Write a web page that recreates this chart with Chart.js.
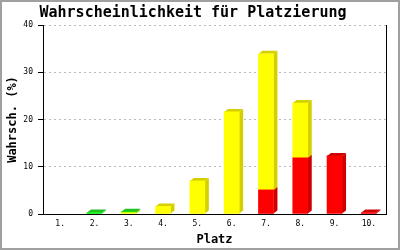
<!DOCTYPE html>
<html>
<head>
<meta charset="utf-8">
<script src="https://cdn.jsdelivr.net/npm/chart.js@4.4.0/dist/chart.umd.min.js"></script>
<style>
  html, body { margin: 0; padding: 0; background: #fff; }
  #wrap { width: 400px; height: 250px; }
</style>
</head>
<body>
<div id="wrap"><canvas id="chart" width="400" height="250"></canvas></div>
<script>
// Platzierungen 1.-10.
const places = ['1.', '2.', '3.', '4.', '5.', '6.', '7.', '8.', '9.', '10.'];
// Anteile je Farbe (%), von unten nach oben gestapelt (null = kein Anteil)
const redValues    = [null, null, null, null, null, null, 5.1, 11.9, 12.3, 0.3];
const yellowValues = [null, null, 0.3, 1.6, 7.0, 21.6, 28.8, 11.6, null, null];
const greenValues  = [null, 0.3, 0.2, null, null, null, null, null, null, null];
const yTicks = [0, 10, 20, 30, 40];

const MONO = '"DejaVu Sans Mono", "Liberation Mono", monospace';
const DEPTH_X = 4;
const DEPTH_Y = 3;

// 3D-Seiten und Deckflächen hinter die Balken zeichnen
const depthPlugin = {
    id: 'depth',
    beforeDatasetsDraw(chart) {
        const ctx = chart.ctx;
        ctx.save();
        chart.data.datasets.forEach((ds, i) => {
            const meta = chart.getDatasetMeta(i);
            meta.data.forEach((bar, j) => {
                if (ds.data[j] == null) return;
                const { x, y, base, width } = bar.getProps(['x', 'y', 'base', 'width'], true);
                if (base - y < 0.05) return;
                const left = x - width / 2;
                const right = x + width / 2;
                ctx.fillStyle = ds.shadeColor;
                // Seite
                ctx.beginPath();
                ctx.moveTo(right, y);
                ctx.lineTo(right + DEPTH_X, y - DEPTH_Y);
                ctx.lineTo(right + DEPTH_X, base - DEPTH_Y);
                ctx.lineTo(right, base);
                ctx.closePath();
                ctx.fill();
                // Deckfläche
                ctx.beginPath();
                ctx.moveTo(left, y);
                ctx.lineTo(left + DEPTH_X, y - DEPTH_Y);
                ctx.lineTo(right + DEPTH_X, y - DEPTH_Y);
                ctx.lineTo(right, y);
                ctx.closePath();
                ctx.fill();
            });
        });
        ctx.restore();
    },
    afterDraw(chart) {
        const ctx = chart.ctx;
        const area = chart.chartArea;
        ctx.save();
        // rechte Achsenlinie
        ctx.strokeStyle = '#000';
        ctx.lineWidth = 1;
        ctx.beginPath();
        ctx.moveTo(Math.round(area.right) + 0.5, area.top);
        ctx.lineTo(Math.round(area.right) + 0.5, area.bottom);
        ctx.stroke();
        // grauer Rahmen
        ctx.strokeStyle = '#a0a0a0';
        ctx.lineWidth = 2;
        ctx.strokeRect(1, 1, chart.width - 2, chart.height - 2);
        ctx.restore();
    }
};

new Chart(document.getElementById('chart'), {
    type: 'bar',
    data: {
        labels: places,
        datasets: [
            { label: 'rot', data: redValues, backgroundColor: '#ff0000', shadeColor: '#cc0000' },
            { label: 'gelb', data: yellowValues, backgroundColor: '#ffff00', shadeColor: '#d4d000' },
            { label: 'grün', data: greenValues, backgroundColor: '#00ee00', shadeColor: '#22c022' }
        ].map(ds => ({ ...ds, barThickness: 15, borderWidth: 0, borderSkipped: false }))
    },
    options: {
        responsive: false,
        animation: false,
        events: [],
        layout: { padding: { top: 0, right: 14, bottom: 0, left: 0 } },
        plugins: {
            legend: { display: false },
            tooltip: { enabled: false },
            title: {
                display: true,
                text: 'Wahrscheinlichkeit für Platzierung',
                color: '#000',
                font: { family: MONO, size: 15, weight: 'bold', lineHeight: 1.2 },
                padding: { top: 4, bottom: 3 }
            }
        },
        scales: {
            x: {
                stacked: true,
                grid: { display: false, drawTicks: false, tickLength: 0 },
                border: { display: true, color: '#000', width: 1 },
                ticks: {
                    color: '#000',
                    padding: 5,
                    font: { family: MONO, size: 8 },
                    maxRotation: 0,
                    autoSkip: false
                },
                title: {
                    display: true,
                    text: 'Platz',
                    color: '#000',
                    font: { family: MONO, size: 12, weight: 'bold', lineHeight: 1.2 },
                    padding: { top: 0, bottom: 3 }
                },
                afterFit(scale) { scale.height = 36; }
            },
            y: {
                stacked: true,
                min: yTicks[0],
                max: yTicks[yTicks.length - 1],
                afterBuildTicks(scale) { scale.ticks = yTicks.map(v => ({ value: v })); },
                grid: {
                    color: '#bbbbbb',
                    tickColor: '#000',
                    tickLength: 5,
                    tickBorderDash: []
                },
                border: { display: true, color: '#000', width: 1, dash: [2, 3] },
                ticks: {
                    color: '#000',
                    padding: 5,
                    font: { family: MONO, size: 8 }
                },
                title: {
                    display: true,
                    text: 'Wahrsch. (%)',
                    color: '#000',
                    font: { family: MONO, size: 12, weight: 'bold', lineHeight: 1.2 },
                    padding: { top: 6, bottom: 0 }
                },
                afterFit(scale) { scale.width = 43; }
            }
        }
    },
    plugins: [depthPlugin]
});
</script>
</body>
</html>
